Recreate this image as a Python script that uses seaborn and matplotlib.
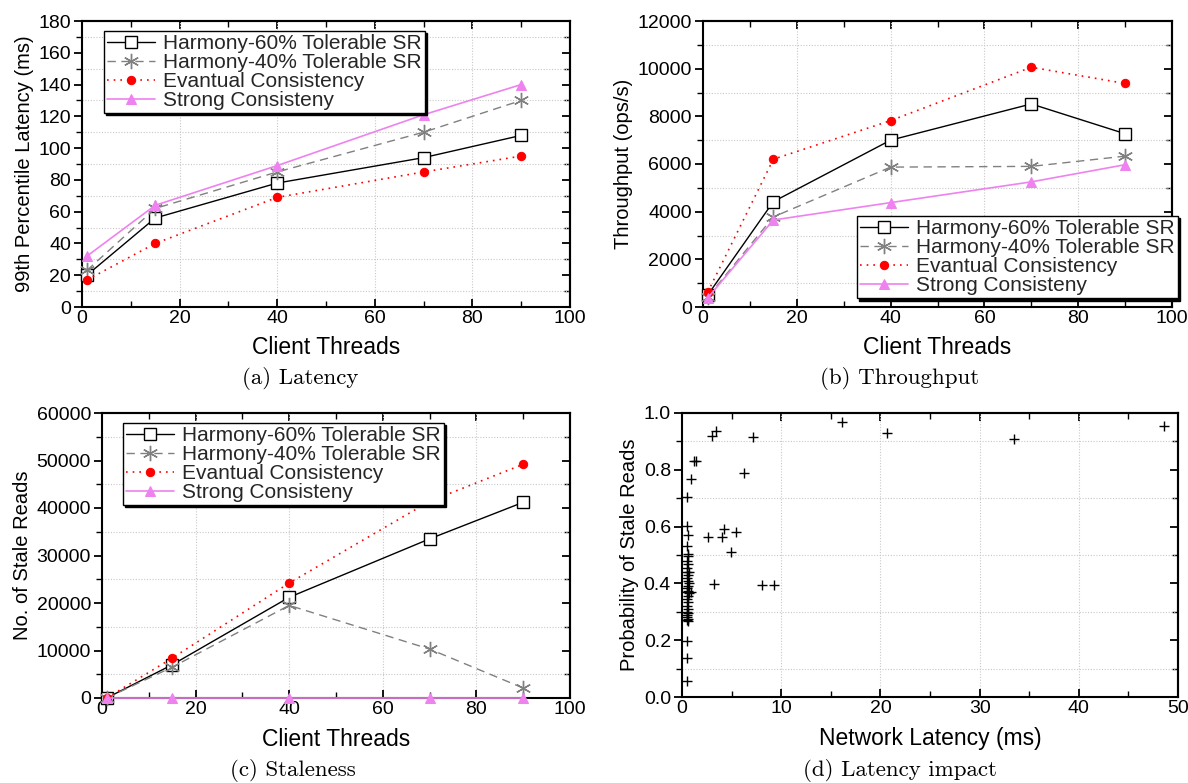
# Recreates the four-panel Harmony consistency figure (latency, throughput, staleness, latency impact).

import seaborn as sns
import pandas as pd
import matplotlib.pyplot as plt
from matplotlib.ticker import MultipleLocator

sns.set_theme(style="white")
plt.rcParams['font.family'] = ['Liberation Sans', 'DejaVu Sans']

# Client threads used in panels (a)-(c).
threads = [1, 15, 40, 70, 90]

series_names = ["Harmony-60% Tolerable SR", "Harmony-40% Tolerable SR",
                "Evantual Consistency", "Strong Consisteny"]

# (a) 99th percentile latency (ms).
lat_h60 = [20, 56, 78, 94, 108]
lat_h40 = [23, 62, 85, 110, 130]
lat_ec = [17, 40, 69, 85, 95]
lat_sc = [32, 64, 89, 121, 140]

# (b) Throughput (ops/s).
thr_h60 = [500, 4420, 7000, 8520, 7270]
thr_h40 = [420, 3780, 5870, 5900, 6330]
thr_ec = [620, 6200, 7820, 10060, 9380]
thr_sc = [380, 3650, 4380, 5250, 5970]

# (c) Number of stale reads.
st_h60 = [0, 7000, 21200, 33500, 41200]
st_h40 = [0, 6500, 19500, 10300, 2100]
st_ec = [0, 8400, 24200, 41400, 49200]
st_sc = [0, 0, 0, 0, 0]

# (d) Network latency (ms) vs probability of stale reads.
net_lat = [16.1, 48.6, 20.7, 33.5, 7.2, 3.0, 3.4, 6.2, 1.2, 1.4, 0.9, 0.5,
           0.5, 0.6, 0.5, 0.6, 2.6, 4.0, 4.2, 5.4, 4.9, 3.2, 8.1, 9.3,
           0.5, 0.5, 0.5, 0.6, 0.5, 0.6, 0.5, 0.7, 0.5, 0.6, 0.5, 0.6, 0.7,
           0.6, 0.5, 0.6, 0.5, 0.7, 0.6, 0.5, 0.6, 0.5, 0.6, 0.5, 0.6, 0.5,
           0.5, 0.6, 0.9, 0.5, 0.6]
stale_prob = [0.967, 0.953, 0.930, 0.910, 0.917, 0.920, 0.935, 0.787, 0.832, 0.832, 0.767, 0.703,
              0.603, 0.572, 0.533, 0.505, 0.565, 0.565, 0.592, 0.580, 0.510, 0.397, 0.395, 0.393,
              0.198, 0.138, 0.058, 0.495, 0.480, 0.470, 0.455, 0.440, 0.440, 0.430, 0.420, 0.410, 0.400,
              0.390, 0.385, 0.375, 0.370, 0.365, 0.355, 0.345, 0.335, 0.320, 0.310, 0.300, 0.295, 0.290,
              0.280, 0.275, 0.370, 0.270, 0.268]

styles = [
    dict(color="black", linestyle="-", marker="s", markersize=9, markerfacecolor="white",
         markeredgecolor="black", markeredgewidth=1.0, linewidth=1.0),
    dict(color="#808080", linestyle=(0, (6, 4)), marker=(6, 2, 0), markersize=11,
         markeredgecolor="#808080", markeredgewidth=1.0, linewidth=1.0),
    dict(color="red", linestyle=(0, (1, 3)), marker="o", markersize=6, markerfacecolor="red",
         markeredgecolor="red", linewidth=1.2),
    dict(color="violet", linestyle="-", marker="^", markersize=7, markerfacecolor="violet",
         markeredgecolor="violet", linewidth=1.2),
]

W, H = 1188, 783
fig = plt.figure(figsize=(W / 100, H / 100), dpi=100)


def px_axes(left, right, top, bottom):
    return fig.add_axes([left / W, 1 - bottom / H, (right - left) / W, (bottom - top) / H])


def style_axes(ax, xmax, xmaj, xmin, ymax, ymaj, ymin):
    ax.set_xlim(0, xmax)
    ax.set_ylim(0, ymax)
    ax.xaxis.set_major_locator(MultipleLocator(xmaj))
    ax.xaxis.set_minor_locator(MultipleLocator(xmin))
    ax.yaxis.set_major_locator(MultipleLocator(ymaj))
    ax.yaxis.set_minor_locator(MultipleLocator(ymin))
    ax.grid(False)
    ax.grid(True, which="minor", axis="y", color="#c8c8c8", linestyle=(0, (1, 1.5)), linewidth=0.8)
    ax.grid(True, which="major", axis="x", color="#c8c8c8", linestyle=(0, (1, 1.5)), linewidth=0.8)
    for s in ax.spines.values():
        s.set_color("black")
        s.set_linewidth(1.5)
    ax.tick_params(axis="both", which="both", colors="black", labelsize=14, pad=2)
    ax.tick_params(axis="y", which="both", direction="out", left=True, right=False)
    ax.tick_params(axis="x", which="both", direction="in", bottom=True, top=False)
    ax.tick_params(which="major", length=6, width=1.3)
    ax.tick_params(which="minor", length=4, width=1.0)
    # inward ticks on top and right
    twin_y = ax.secondary_yaxis("right")
    twin_y.yaxis.set_major_locator(MultipleLocator(ymaj))
    twin_y.yaxis.set_minor_locator(MultipleLocator(ymin))
    twin_y.tick_params(which="both", direction="in", labelright=False, colors="black")
    twin_y.tick_params(which="major", length=6, width=1.3)
    twin_y.tick_params(which="minor", length=4, width=1.0)
    twin_y.spines["right"].set_linewidth(1.5)
    twin_x = ax.secondary_xaxis("top")
    twin_x.xaxis.set_major_locator(MultipleLocator(xmaj))
    twin_x.xaxis.set_minor_locator(MultipleLocator(xmin))
    twin_x.tick_params(which="both", direction="in", labeltop=False, colors="black")
    twin_x.tick_params(which="major", length=6, width=1.3)
    twin_x.tick_params(which="minor", length=4, width=1.0)
    twin_x.spines["top"].set_linewidth(1.5)


def line_panel(ax, values, ylabel, legend_loc, legend_anchor):
    for name, vals, st in zip(series_names, values, styles):
        df = pd.DataFrame({"threads": threads, "value": vals})
        sns.lineplot(data=df, x="threads", y="value", ax=ax, label=name, clip_on=False,
                     zorder=3, **st)
    ax.set_xlabel("Client Threads", fontsize=16.5, color="black", labelpad=7)
    ax.set_ylabel(ylabel, fontsize=14.5, color="black", labelpad=3)
    leg = ax.legend(loc=legend_loc, bbox_to_anchor=legend_anchor, fontsize=15, frameon=True,
                    fancybox=False,
                    shadow={"ox": 1.5, "oy": -1.5, "facecolor": "black", "edgecolor": "black", "alpha": 1},
                    handlelength=2.3, handletextpad=0.4, borderpad=0.15, labelspacing=0.0,
                    borderaxespad=0)
    leg.get_frame().set_edgecolor("black")
    leg.get_frame().set_linewidth(1.0)
    leg.set_zorder(5)


ax_a = px_axes(82, 570, 21, 307)
style_axes(ax_a, 100, 20, 10, 180, 20, 10)
line_panel(ax_a, [lat_h60, lat_h40, lat_ec, lat_sc], "99th Percentile Latency (ms)",
           "upper left", (0.045, 0.965))

ax_b = px_axes(703, 1172, 21, 307)
style_axes(ax_b, 100, 20, 10, 12000, 2000, 1000)
line_panel(ax_b, [thr_h60, thr_h40, thr_ec, thr_sc], "Throughput (ops/s)",
           "lower right", (1.013, 0.03))

ax_c = px_axes(102, 570, 413, 698)
style_axes(ax_c, 100, 20, 10, 60000, 10000, 5000)
line_panel(ax_c, [st_h60, st_h40, st_ec, st_sc], "No. of Stale Reads",
           "upper left", (0.045, 0.965))

ax_d = px_axes(682, 1178, 413, 697)
style_axes(ax_d, 50, 10, 5, 1.0, 0.2, 0.1)
sns.scatterplot(x=net_lat, y=stale_prob, ax=ax_d, marker="+", color="black", s=45, linewidth=1.0)
ax_d.set_xlabel("Network Latency (ms)", fontsize=16.5, color="black", labelpad=7)
ax_d.set_ylabel("Probability of Stale Reads", fontsize=14.5, color="black", labelpad=3)
ax_d.yaxis.set_major_formatter(plt.FuncFormatter(lambda v, p: f"{v:.1f}"))

captions = [("(a) Latency", 300, 379), ("(b) Throughput", 900, 379),
            ("(c) Staleness", 293, 771), ("(d) Latency impact", 900, 771)]
for text, x, y in captions:
    fig.text(x / W, 1 - y / H, text, ha="center", va="center", fontsize=16.5,
             family=["cmr10", "DejaVu Serif"], color="black")

plt.savefig("out.png", dpi=100)
